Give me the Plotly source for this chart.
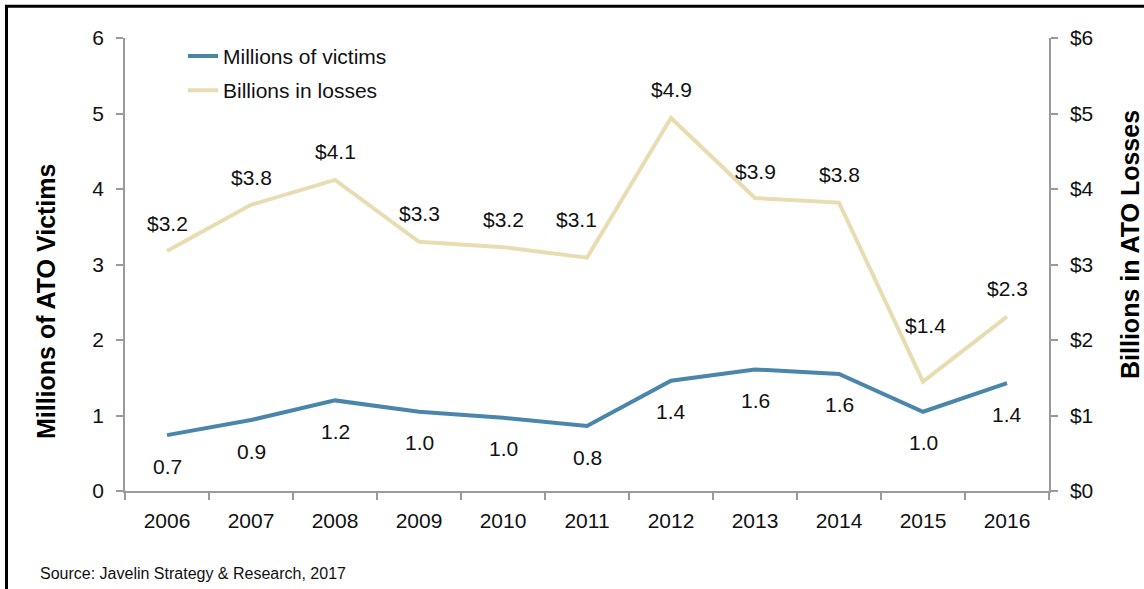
import plotly.graph_objects as go

years = ["2006", "2007", "2008", "2009", "2010", "2011", "2012", "2013", "2014", "2015", "2016"]
victims = [0.74, 0.94, 1.20, 1.05, 0.97, 0.86, 1.46, 1.61, 1.55, 1.05, 1.43]
losses = [3.18, 3.79, 4.12, 3.30, 3.23, 3.09, 4.94, 3.88, 3.82, 1.45, 2.31]
victim_labels = ["0.7", "0.9", "1.2", "1.0", "1.0", "0.8", "1.4", "1.6", "1.6", "1.0", "1.4"]
loss_labels = ["$3.2", "$3.8", "$4.1", "$3.3", "$3.2", "$3.1", "$4.9", "$3.9", "$3.8", "$1.4", "$2.3"]
left_ticks = [0, 1, 2, 3, 4, 5, 6]
left_tick_labels = ["0", "1", "2", "3", "4", "5", "6"]
right_ticks = [0, 1, 2, 3, 4, 5, 6]
right_tick_labels = ["$0", "$1", "$2", "$3", "$4", "$5", "$6"]

# label offsets in pixels (layout only)
loss_dx = [0, 0, 0, 0, 0, -11, 0, 0, 0, 2, 0]
loss_dy = [27, 27, 28, 28, 28, 38, 29, 27, 28, 56, 28]
victim_dy = -31

FONT = "Liberation Sans, Arial, sans-serif"
BLUE = "#4A86AA"
SAND = "#E8DDB2"
AXIS = "#9A9A9A"
FS = 21

fig = go.Figure()
fig.add_trace(go.Scatter(x=years, y=victims, mode="lines", name="Millions of victims",
                         line=dict(color=BLUE, width=4), legendgroup="a", yaxis="y"))
fig.add_trace(go.Scatter(x=years, y=losses, mode="lines", name="Billions in losses",
                         line=dict(color=SAND, width=4), legendgroup="b", yaxis="y2"))

annotations = []
for i, yr in enumerate(years):
    annotations.append(dict(x=i, y=victims[i], xref="x", yref="y", text=victim_labels[i],
                            showarrow=False, yshift=victim_dy, xanchor="center", yanchor="middle",
                            font=dict(family=FONT, size=FS, color="#111")))
    annotations.append(dict(x=i, y=losses[i], xref="x", yref="y2", text=loss_labels[i],
                            showarrow=False, yshift=loss_dy[i], xshift=loss_dx[i],
                            xanchor="center", yanchor="middle",
                            font=dict(family=FONT, size=FS, color="#111")))

annotations.append(dict(text="<b>Millions of ATO Victims</b>", textangle=-90, xref="paper", yref="paper",
                        x=(46 - 125) / 924, y=(490.7 - 301) / 452.4, showarrow=False,
                        xanchor="center", yanchor="middle",
                        font=dict(family=FONT, size=25, color="#000")))
annotations.append(dict(text="<b>Billions in ATO Losses</b>", textangle=-90, xref="paper", yref="paper",
                        x=(1130 - 125) / 924, y=(490.7 - 245) / 452.4, showarrow=False,
                        xanchor="center", yanchor="middle",
                        font=dict(family=FONT, size=25, color="#000")))
annotations.append(dict(text="Source: Javelin Strategy & Research, 2017", xref="paper", yref="paper",
                        x=(38 - 125) / 924, y=(490.7 - 573) / 452.4, xanchor="left", yanchor="middle",
                        showarrow=False, font=dict(family=FONT, size=16, color="#111")))

fig.update_layout(
    width=1144, height=589,
    margin=dict(l=125, r=95, t=38, b=98),
    paper_bgcolor="white", plot_bgcolor="white",
    font=dict(family=FONT, size=FS, color="#111"),
    showlegend=True,
    legend=dict(x=(183 - 125) / 924, y=1.005, xanchor="left", yanchor="top",
                bgcolor="rgba(0,0,0,0)", tracegroupgap=4,
                font=dict(family=FONT, size=FS, color="#111")),
    xaxis=dict(type="category", range=[-0.5, 10.5], showline=True, linecolor=AXIS, linewidth=1.5,
               ticks="outside", tickson="boundaries", ticklen=7, tickcolor=AXIS, tickwidth=1.5,
               showgrid=False, zeroline=False, tickfont=dict(size=FS), ticklabelstandoff=10),
    yaxis=dict(range=[0, 6], tickmode="array", tickvals=left_ticks, ticktext=left_tick_labels,
               showline=True, linecolor=AXIS, linewidth=1.5,
               ticks="outside", ticklen=7, tickcolor=AXIS, tickwidth=1.5, showgrid=False,
               zeroline=False, tickfont=dict(size=FS), ticklabelstandoff=8),
    yaxis2=dict(range=[0, 6], tickmode="array", tickvals=right_ticks, ticktext=right_tick_labels,
                overlaying="y", side="right",
                showline=True, linecolor=AXIS, linewidth=1.5, ticks="outside", ticklen=7,
                tickcolor=AXIS, tickwidth=1.5, showgrid=False, zeroline=False,
                tickfont=dict(size=FS), ticklabelstandoff=8),
    annotations=annotations,
    shapes=[dict(type="rect", xref="paper", yref="paper",
                 x0=(6.5 - 125) / 924, x1=(1152 - 125) / 924,
                 y0=(490.7 - 600) / 452.4, y1=(490.7 - 6.5) / 452.4,
                 line=dict(color="black", width=3), fillcolor="rgba(0,0,0,0)")],
)

fig.write_html("out.html")
